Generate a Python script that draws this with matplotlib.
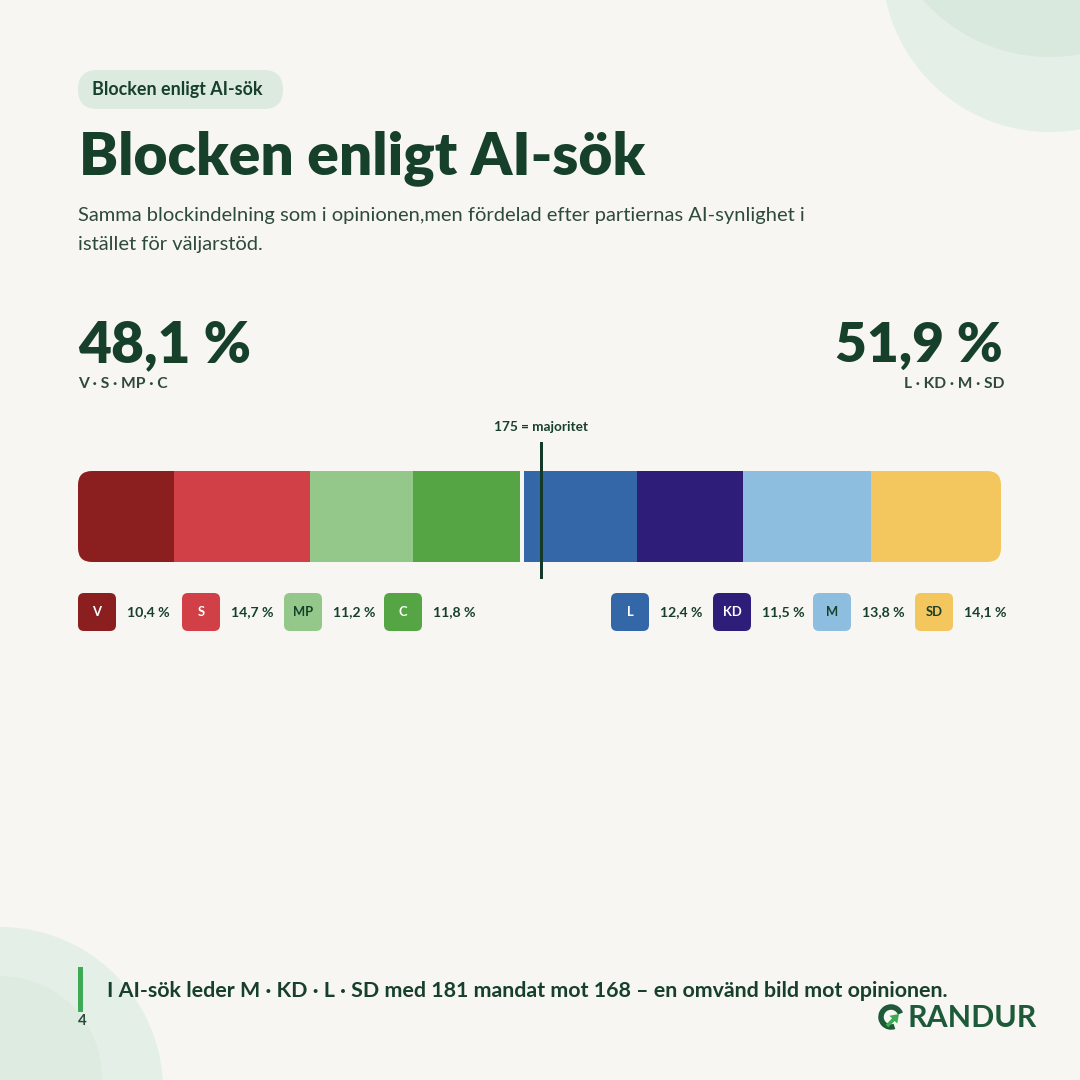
import matplotlib
matplotlib.use("Agg")
import matplotlib.pyplot as plt
from matplotlib.patches import FancyBboxPatch, Circle, FancyArrow, Arc
from matplotlib.transforms import IdentityTransform
from matplotlib.lines import Line2D

# ---------------- data ----------------
parties = ["V", "S", "MP", "C", "L", "KD", "M", "SD"]
shares = [10.4, 14.7, 11.2, 11.8, 12.4, 11.5, 13.8, 14.1]
party_colors = ["#8B1F1F", "#D04046", "#93C88A", "#55A545", "#3367A8", "#2F1E79", "#8EBEDF", "#F3C65E"]
label_colors = ["white", "white", "#17402B", "white", "white", "white", "#17402B", "#17402B"]
left_block = ["V", "S", "MP", "C"]
right_block = ["L", "KD", "M", "SD"]
left_total = 48.1
right_total = 51.9
seats_total = 349
majority_seats = 175

pill_text = "Blocken enligt AI-sök"
title = "Blocken enligt AI-sök"
subtitle = ["Samma blockindelning som i opinionen,men fördelad efter partiernas AI-synlighet i",
            "istället för väljarstöd."]
majority_label = "175 = majoritet"
footer = "I AI-sök leder M · KD · L · SD med 181 mandat mot 168 – en omvänd bild mot opinionen."
page_no = "4"
brand_rest = "RANDUR"

# ---------------- style ----------------
BG = "#F7F6F2"
DARK = "#17402B"
FONT = ["Lato", "DejaVu Sans"]
plt.rcParams["font.family"] = FONT

W = H = 1080
fig = plt.figure(figsize=(10.8, 10.8), dpi=100, facecolor=BG)
ax = fig.add_axes([0, 0, 1, 1])
ax.set_xlim(0, W)
ax.set_ylim(H, 0)
ax.axis("off")
renderer = fig.canvas.get_renderer()

def pt(px):
    return px * 72 / 100

def fmt(v):
    return f"{v:.1f}".replace(".", ",") + " %"

def fit(x, y, s, width, size_px, axes=None, **kw):
    a = axes if axes is not None else ax
    t = a.text(x, y, s, fontsize=pt(size_px), **kw)
    w = t.get_window_extent(renderer).width
    if w > 0:
        t.set_fontsize(pt(size_px) * width / w)
    return t

# decorative circles
ax.add_patch(Circle((1050, -36), 168, color="#E4EFE7", zorder=0, lw=0))
ax.add_patch(Circle((1050, -113), 170, color="#D9E9DE", zorder=0, lw=0))
ax.add_patch(Circle((0, 1090), 163, color="#E4EFE7", zorder=0, lw=0))
ax.add_patch(Circle((0, 1078), 102, color="#DDEBE1", zorder=0, lw=0))

# pill
ax.add_patch(FancyBboxPatch((78, 70), 205, 39, boxstyle="round,pad=0,rounding_size=19.5",
                            fc="#DCEADF", ec="none", zorder=1))
fit(92, 90, pill_text, 169, 16, fontweight="bold", color=DARK, va="center", ha="left", zorder=2)

# title & subtitle
fit(79, 174, title, 566, 62, fontweight="heavy", color=DARK, va="baseline", ha="left")
t1 = fit(78, 221, subtitle[0], 730, 18, color="#2E4A3C", va="baseline", ha="left")
ax.text(78, 250, subtitle[1], fontsize=t1.get_fontsize(), color="#2E4A3C", va="baseline", ha="left")

# block totals
fit(78, 362, fmt(left_total), 173, 67, fontweight="heavy", color=DARK, va="baseline", ha="left")
fit(1003, 362, fmt(right_total), 168, 67, fontweight="heavy", color=DARK, va="baseline", ha="right")
fit(78, 388, " · ".join(left_block), 90, 15, fontweight="bold", color="#2E4A3C", va="baseline", ha="left")
fit(1004, 388, " · ".join(right_block), 101, 15, fontweight="bold", color="#2E4A3C", va="baseline", ha="right")

# ---------------- bar ----------------
bx0, bx1, by0, by1 = 78, 1001, 471, 562
bax = fig.add_axes([bx0 / W, 1 - by1 / H, (bx1 - bx0) / W, (by1 - by0) / H])
total = sum(shares)
bax.set_xlim(0, total)
bax.set_ylim(0, 1)
bax.axis("off")
clip = FancyBboxPatch((bx0, H - by1), bx1 - bx0, by1 - by0, boxstyle="round,pad=0,rounding_size=14",
                      transform=IdentityTransform(), fc="none", ec="none")
fig.patches.append(clip)
bars = bax.barh([0.5] * len(shares), shares, left=[sum(shares[:i]) for i in range(len(shares))],
                height=1.0, color=party_colors, lw=0)
for b in bars:
    b.set_clip_path(clip)
split = sum(s for p, s in zip(parties, shares) if p in left_block)
gap = bax.axvline(split, color=BG, lw=pt(4), zorder=3)
gap.set_clip_path(clip)
mx = majority_seats / seats_total * total
maj = Line2D([mx, mx], [-0.165, 1.31], color="#133A28", lw=pt(3), transform=bax.transData,
             clip_on=False, zorder=5)
bax.add_line(maj)
fit(mx, 1.48, majority_label, 94, 12.5, axes=bax, fontweight="bold", color=DARK,
    ha="center", va="center", clip_on=False)

# ---------------- legend ----------------
sq_x = [78, 182, 284, 384, 611, 713, 813, 915]
for p, s, c, lc, x in zip(parties, shares, party_colors, label_colors, sq_x):
    ax.add_patch(FancyBboxPatch((x, 593), 38, 38, boxstyle="round,pad=0,rounding_size=6",
                                fc=c, ec="none", zorder=2))
    ax.text(x + 19, 612, p, fontsize=pt(13), fontweight="bold", color=lc, ha="center", va="center", zorder=3)
    fit(x + 49, 612, fmt(s), 43, 15, fontweight="bold", color=DARK, ha="left", va="center", zorder=3)

# ---------------- footer ----------------
ax.add_patch(FancyBboxPatch((78, 967), 4.5, 45, boxstyle="square,pad=0", fc="#3DAA55", ec="none", zorder=2))
fit(107, 997, footer, 843, 19.5, fontweight="bold", color=DARK, ha="left", va="baseline", zorder=3)
ax.text(78, 1021, page_no, fontsize=pt(15), fontweight="bold", color="#2E4A3C", ha="left", va="center", zorder=3)

# brand
fit(1037, 1027, brand_rest, 129, 28, fontweight="bold", color="#1E5A3A", ha="right", va="baseline", zorder=3)
ax.add_patch(Arc((891, 1017), 20, 20, theta1=70, theta2=340, lw=pt(5.5), color="#1E5A3A", zorder=3))
ax.add_patch(FancyArrow(887, 1026, 12, -12, width=3.6, head_width=11, head_length=8,
                        length_includes_head=True, color="#3DAA55", zorder=4, lw=0))

fig.savefig("out.png", dpi=100, facecolor=BG)
